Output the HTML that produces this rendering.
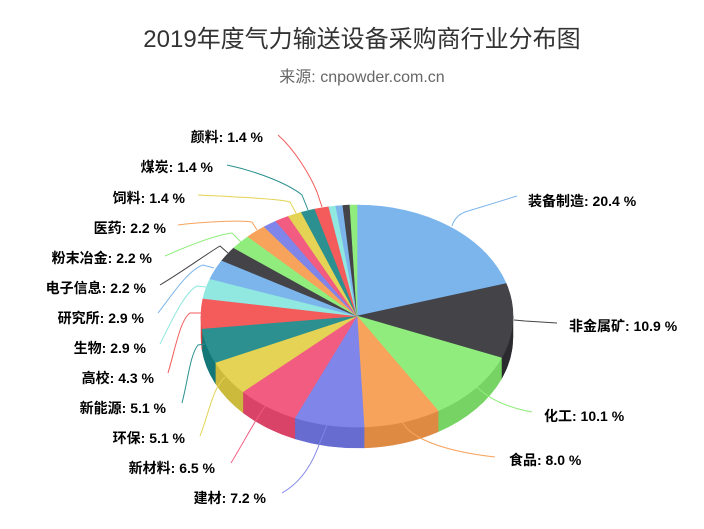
<!DOCTYPE html>
<html>
<head>
<meta charset="utf-8">
<style>
  html,body{margin:0;padding:0;background:#fff;}
  svg{display:block;}
  .lbl{font-family:"Liberation Sans","Noto Sans CJK SC",sans-serif;font-size:14px;font-weight:bold;fill:#000;}
</style>
</head>
<body>
<svg width="704" height="529" viewBox="0 0 704 529" xmlns="http://www.w3.org/2000/svg">
  <rect x="0" y="0" width="704" height="529" fill="#ffffff"/>
  <text x="362" y="47" text-anchor="middle" font-family="'Liberation Sans','Noto Sans CJK SC',sans-serif" font-size="24" fill="#333333">2019年度气力输送设备采购商行业分布图</text>
  <text x="362" y="82" text-anchor="middle" font-family="'Liberation Sans','Noto Sans CJK SC',sans-serif" font-size="16" fill="#666666">来源: cnpowder.com.cn</text>

  <!-- side walls -->
  <g stroke-width="0.5">
    <path d="M513 316 A156 111 0 0 1 501.5 357.9 L501.5 378.9 A156 111 0 0 0 513 337 Z" fill="#2a2a2f" stroke="#2a2a2f"/>
    <path d="M501.5 357.9 A156 111 0 0 1 438.1 410.8 L438.1 431.8 A156 111 0 0 0 501.5 378.9 Z" fill="#77d464" stroke="#77d464"/>
    <path d="M438.1 410.8 A156 111 0 0 1 364.1 426.9 L364.1 447.9 A156 111 0 0 0 438.1 431.8 Z" fill="#de8a43" stroke="#de8a43"/>
    <path d="M364.1 426.9 A156 111 0 0 1 294.8 417.8 L294.8 438.8 A156 111 0 0 0 364.1 447.9 Z" fill="#676cd0" stroke="#676cd0"/>
    <path d="M294.8 417.8 A156 111 0 0 1 242.9 391.7 L242.9 412.7 A156 111 0 0 0 294.8 438.8 Z" fill="#d84367" stroke="#d84367"/>
    <path d="M242.9 391.7 A156 111 0 0 1 215.4 362.5 L215.4 383.5 A156 111 0 0 0 242.9 412.7 Z" fill="#cbba3b" stroke="#cbba3b"/>
    <path d="M215.4 362.5 A156 111 0 0 1 202.0 328.6 L202.0 349.6 A156 111 0 0 0 215.4 383.5 Z" fill="#127776" stroke="#127776"/>
    <path d="M202.0 328.6 A156 111 0 0 1 201 316 L201 337 A156 111 0 0 0 202.0 349.6 Z" fill="#db4242" stroke="#db4242"/>
  </g>

  <!-- top faces -->
  <g stroke-width="0.6" stroke-linejoin="round">
    <path d="M357 316 L357 205 A156 111 0 0 1 506.2 283.6 Z" fill="#7cb5ec" stroke="#7cb5ec"/>
    <path d="M357 316 L506.2 283.6 A156 111 0 0 1 501.5 357.9 Z" fill="#434348" stroke="#434348"/>
    <path d="M357 316 L501.5 357.9 A156 111 0 0 1 438.1 410.8 Z" fill="#90ed7d" stroke="#90ed7d"/>
    <path d="M357 316 L438.1 410.8 A156 111 0 0 1 364.1 426.9 Z" fill="#f7a35c" stroke="#f7a35c"/>
    <path d="M357 316 L364.1 426.9 A156 111 0 0 1 294.8 417.8 Z" fill="#8085e9" stroke="#8085e9"/>
    <path d="M357 316 L294.8 417.8 A156 111 0 0 1 242.9 391.7 Z" fill="#f15c80" stroke="#f15c80"/>
    <path d="M357 316 L242.9 391.7 A156 111 0 0 1 215.4 362.5 Z" fill="#e4d354" stroke="#e4d354"/>
    <path d="M357 316 L215.4 362.5 A156 111 0 0 1 202.0 328.6 Z" fill="#2b908f" stroke="#2b908f"/>
    <path d="M357 316 L202.0 328.6 A156 111 0 0 1 203.0 298.4 Z" fill="#f45b5b" stroke="#f45b5b"/>
    <path d="M357 316 L203.0 298.4 A156 111 0 0 1 210.0 278.8 Z" fill="#91e8e1" stroke="#91e8e1"/>
    <path d="M357 316 L210.0 278.8 A156 111 0 0 1 221.9 260.5 Z" fill="#7cb5ec" stroke="#7cb5ec"/>
    <path d="M357 316 L221.9 260.5 A156 111 0 0 1 233.8 247.9 Z" fill="#434348" stroke="#434348"/>
    <path d="M357 316 L233.8 247.9 A156 111 0 0 1 248.0 236.6 Z" fill="#90ed7d" stroke="#90ed7d"/>
    <path d="M357 316 L248.0 236.6 A156 111 0 0 1 264.2 226.8 Z" fill="#f7a35c" stroke="#f7a35c"/>
    <path d="M357 316 L264.2 226.8 A156 111 0 0 1 275.9 221.2 Z" fill="#8085e9" stroke="#8085e9"/>
    <path d="M357 316 L275.9 221.2 A156 111 0 0 1 288.4 216.3 Z" fill="#f15c80" stroke="#f15c80"/>
    <path d="M357 316 L288.4 216.3 A156 111 0 0 1 301.4 212.3 Z" fill="#e4d354" stroke="#e4d354"/>
    <path d="M357 316 L301.4 212.3 A156 111 0 0 1 314.9 209.1 Z" fill="#2b908f" stroke="#2b908f"/>
    <path d="M357 316 L314.9 209.1 A156 111 0 0 1 328.8 206.8 Z" fill="#f45b5b" stroke="#f45b5b"/>
    <path d="M357 316 L328.8 206.8 A156 111 0 0 1 335.8 206.0 Z" fill="#91e8e1" stroke="#91e8e1"/>
    <path d="M357 316 L335.8 206.0 A156 111 0 0 1 342.8 205.5 Z" fill="#7cb5ec" stroke="#7cb5ec"/>
    <path d="M357 316 L342.8 205.5 A156 111 0 0 1 349.9 205.1 Z" fill="#434348" stroke="#434348"/>
    <path d="M357 316 L349.9 205.1 A156 111 0 0 1 357 205 Z" fill="#90ed7d" stroke="#90ed7d"/>
  </g>

  <!-- connectors -->
  <g fill="none" stroke-width="1">
    <path d="M517 196 L465 212 Q455 216 452 226" stroke="#7cb5ec"/>
    <path d="M557 323 L525 321 L514 320" stroke="#434348"/>
    <path d="M532 412 C510 408 490 400 477 387" stroke="#90ed7d"/>
    <path d="M495 457 C450 452 410 440 402 421" stroke="#f7a35c"/>
    <path d="M282 493 Q305 480 317 450 L327 425" stroke="#8085e9"/>
    <path d="M231 463 C245 440 255 420 266 405" stroke="#f15c80"/>
    <path d="M200 436 C210 410 212 390 225 377" stroke="#e4d354"/>
    <path d="M182 403 C188 380 190 355 198 345 L205 344" stroke="#2b908f"/>
    <path d="M168 373 C175 350 180 320 190 313 L201 313" stroke="#f45b5b"/>
    <path d="M160 344 C172 320 185 292 197 286 L206 287" stroke="#91e8e1"/>
    <path d="M158 313 C172 295 188 270 203 265 L214 268" stroke="#7cb5ec"/>
    <path d="M160 285 C185 270 205 255 220 246 L228 253" stroke="#434348"/>
    <path d="M165 256 C190 245 215 235 232 233 L241 242" stroke="#90ed7d"/>
    <path d="M178 225 C200 222 240 220 252 222 L257 230" stroke="#f7a35c"/>
    <path d="M198 195 C240 197 280 199 290 202 L296 213" stroke="#e4d354"/>
    <path d="M227 165 C260 172 290 185 302 195 L308 210" stroke="#2b908f"/>
    <path d="M278 135 C295 150 310 175 317 192 L322 207" stroke="#f45b5b"/>
  </g>

  <!-- labels right -->
  <text class="lbl" x="528" y="206">装备制造: 20.4 %</text>
  <text class="lbl" x="569" y="331">非金属矿: 10.9 %</text>
  <text class="lbl" x="544" y="421">化工: 10.1 %</text>
  <text class="lbl" x="509" y="465">食品: 8.0 %</text>

  <!-- labels left -->
  <g text-anchor="end">
    <text class="lbl" x="263" y="142">颜料: 1.4 %</text>
    <text class="lbl" x="213" y="172">煤炭: 1.4 %</text>
    <text class="lbl" x="185" y="203">饲料: 1.4 %</text>
    <text class="lbl" x="166" y="233">医药: 2.2 %</text>
    <text class="lbl" x="152" y="263">粉末冶金: 2.2 %</text>
    <text class="lbl" x="146" y="293">电子信息: 2.2 %</text>
    <text class="lbl" x="144" y="323">研究所: 2.9 %</text>
    <text class="lbl" x="146" y="353">生物: 2.9 %</text>
    <text class="lbl" x="154" y="383">高校: 4.3 %</text>
    <text class="lbl" x="166" y="413">新能源: 5.1 %</text>
    <text class="lbl" x="185" y="443">环保: 5.1 %</text>
    <text class="lbl" x="215" y="473">新材料: 6.5 %</text>
    <text class="lbl" x="266" y="503">建材: 7.2 %</text>
  </g>
</svg>
</body>
</html>
